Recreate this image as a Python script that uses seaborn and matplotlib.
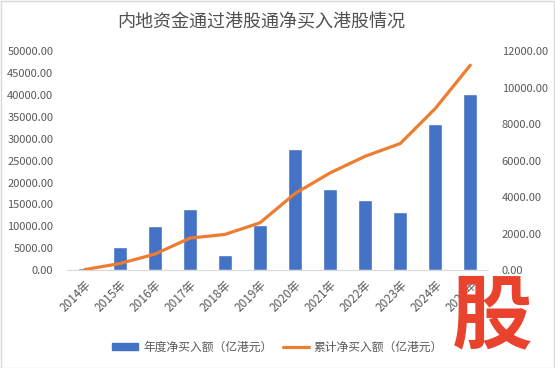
import pandas as pd
import matplotlib
matplotlib.use('Agg')
import matplotlib.pyplot as plt
import seaborn as sns
from matplotlib.patches import Patch
from matplotlib.lines import Line2D

# 年份与数值（从图中读取，亿港元）
years = ['2014年', '2015年', '2016年', '2017年', '2018年', '2019年',
         '2020年', '2021年', '2022年', '2023年', '2024年', '2025年']
annual = [118, 1250, 2400, 3330, 820, 2450, 6650, 4470, 3850, 3160, 8030, 9670]
cumulative = [118, 1500, 3650, 7300, 8150, 10800, 17500, 22200, 26000, 28900, 36900, 46800]

left_ticks = list(range(0, 50001, 5000))
right_ticks = list(range(0, 12001, 2000))

bar_color = '#4472C4'
line_color = '#ED7D31'
text_color = '#595959'

df = pd.DataFrame({'year': years, 'annual': annual, 'cumulative': cumulative})

sns.set_style('white')
plt.rcParams['font.family'] = ['Noto Sans CJK SC', 'DejaVu Sans']
plt.rcParams['axes.unicode_minus'] = False

fig = plt.figure(figsize=(5.55, 3.68), dpi=100)
ax = fig.add_axes([0.121, 0.266, 0.758, 0.595])
ax2 = ax.twinx()

sns.barplot(data=df, x='year', y='annual', color=bar_color, width=0.4,
            saturation=1, ax=ax2)
sns.lineplot(data=df, x='year', y='cumulative', color=line_color, linewidth=2.3,
             sort=False, ax=ax)

ax.set_zorder(ax2.get_zorder() + 1)
ax.patch.set_visible(False)

ax.set_ylim(0, 50000)
ax2.set_ylim(0, 12000)
ax.set_xlim(-0.5, len(years) - 0.5)
ax.set_yticks(left_ticks)
ax.set_yticklabels([f'{v:.2f}' for v in left_ticks])
ax2.set_yticks(right_ticks)
ax2.set_yticklabels([f'{v:.2f}' for v in right_ticks])

for a in (ax, ax2):
    a.set_xlabel('')
    a.set_ylabel('')
    for s in a.spines.values():
        s.set_visible(False)
    a.tick_params(length=0, labelsize=8, labelcolor=text_color, pad=8)
ax2.spines['bottom'].set_visible(True)
ax2.spines['bottom'].set_color('#D9D9D9')
ax.set_xticks(range(len(years)))
ax.set_xticklabels(years, rotation=45, ha='right', rotation_mode='anchor')
ax.tick_params(axis='x', pad=6, labelsize=8.5)
ax.tick_params(axis='y', pad=10)
ax2.tick_params(axis='y', pad=10)

fig.text(0.47, 0.94, '内地资金通过港股通净买入港股情况', ha='center', va='center',
         fontsize=13, color='#505050')

handles = [Patch(color=bar_color), Line2D([], [], color=line_color, lw=2.3)]
fig.legend(handles, ['年度净买入额（亿港元）', '累计净买入额（亿港元）'],
           loc='center', bbox_to_anchor=(0.5, 0.057), ncol=2, frameon=False,
           fontsize=8.5, labelcolor=text_color, handlelength=2.2,
           handleheight=0.6, columnspacing=0.9, handletextpad=0.4)

fig.add_artist(plt.Rectangle((0.001, 0.001), 0.998, 0.997, transform=fig.transFigure,
                             fill=False, ec='#D9D9D9', lw=1))
fig.text(0.886, 0.135, '股', ha='center', va='center', fontsize=58,
         fontweight='bold', color='#E9432E', zorder=10)

fig.savefig('out.png', dpi=100)
